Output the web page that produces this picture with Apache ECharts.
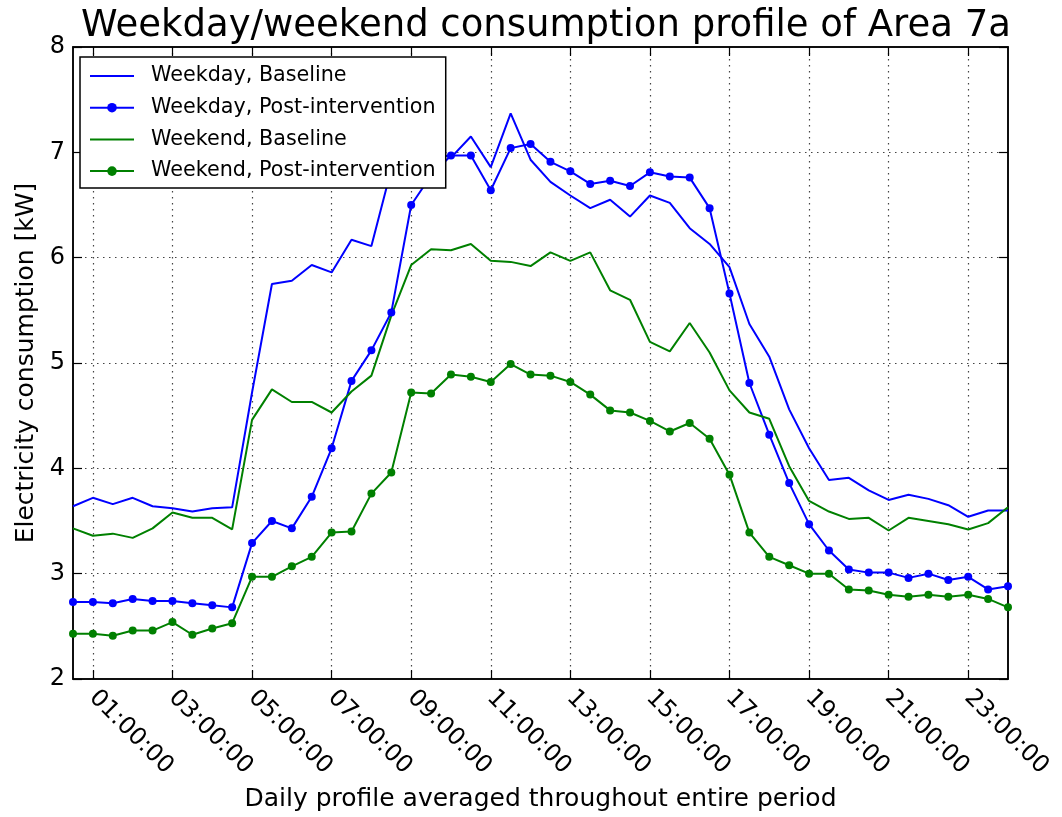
<!DOCTYPE html>
<html>
<head>
<meta charset="utf-8">
<title>Weekday/weekend consumption profile of Area 7a</title>
<script src="https://cdn.jsdelivr.net/npm/echarts@6/dist/echarts.min.js"></script>
<style>
  html, body { margin: 0; padding: 0; background: #fff; }
  #main { width: 1062px; height: 817px; }
</style>
</head>
<body>
<div id="main"></div>
<script>
// half-hourly slots, 00:30 .. 00:00
var times = ['00:30:00','01:00:00','01:30:00','02:00:00','02:30:00','03:00:00','03:30:00','04:00:00',
  '04:30:00','05:00:00','05:30:00','06:00:00','06:30:00','07:00:00','07:30:00','08:00:00',
  '08:30:00','09:00:00','09:30:00','10:00:00','10:30:00','11:00:00','11:30:00','12:00:00',
  '12:30:00','13:00:00','13:30:00','14:00:00','14:30:00','15:00:00','15:30:00','16:00:00',
  '16:30:00','17:00:00','17:30:00','18:00:00','18:30:00','19:00:00','19:30:00','20:00:00',
  '20:30:00','21:00:00','21:30:00','22:00:00','22:30:00','23:00:00','23:30:00','00:00:00'];

var weekdayBaseline = [3.64,3.72,3.66,3.72,3.64,3.62,3.59,3.62,3.63,4.72,5.75,5.78,5.93,5.86,6.17,6.11,
  6.84,6.97,7.02,6.95,7.15,6.86,7.37,6.93,6.72,6.59,6.47,6.55,6.39,6.59,6.52,6.28,
  6.13,5.91,5.37,5.06,4.56,4.19,3.89,3.91,3.79,3.70,3.75,3.71,3.65,3.54,3.60,3.60];
var weekdayPost = [2.73,2.73,2.72,2.76,2.74,2.74,2.72,2.70,2.68,3.29,3.50,3.43,3.73,4.19,4.83,5.12,
  5.48,6.50,6.78,6.97,6.97,6.64,7.04,7.08,6.91,6.82,6.70,6.73,6.68,6.81,6.77,6.76,
  6.47,5.66,4.81,4.32,3.86,3.47,3.22,3.04,3.01,3.01,2.96,3.00,2.94,2.97,2.85,2.88];
var weekendBaseline = [3.43,3.36,3.38,3.34,3.43,3.58,3.53,3.53,3.42,4.46,4.75,4.63,4.63,4.53,4.73,4.88,
  5.45,5.93,6.08,6.07,6.13,5.97,5.96,5.92,6.05,5.97,6.05,5.69,5.60,5.20,5.11,5.38,
  5.10,4.74,4.53,4.47,4.02,3.69,3.59,3.52,3.53,3.41,3.53,3.50,3.47,3.42,3.48,3.63];
var weekendPost = [2.43,2.43,2.41,2.46,2.46,2.54,2.42,2.48,2.53,2.97,2.97,3.07,3.16,3.39,3.40,3.76,
  3.96,4.72,4.71,4.89,4.87,4.82,4.99,4.89,4.88,4.82,4.70,4.55,4.53,4.45,4.35,4.43,
  4.28,3.94,3.39,3.16,3.08,3.00,3.00,2.85,2.84,2.80,2.78,2.80,2.78,2.80,2.76,2.68];

var seriesNames = ['Weekday, Baseline','Weekday, Post-intervention','Weekend, Baseline','Weekend, Post-intervention'];
var blue = '#0000ff', green = '#008000';
var font = 'DejaVu Sans';
// plain line for the legend entries without markers
var lineIcon = 'path://M0,0H44V2H0Z';

// ticks on odd hours only
function oddHour(idx) { return idx % 4 === 1; }

var myChart = echarts.init(document.getElementById('main'));

function makeLine(name, data, color, marker) {
    return {
        name: name,
        type: 'line',
        data: data,
        symbol: marker ? 'circle' : 'none',
        symbolSize: 8,
        showSymbol: marker,
        lineStyle: { color: color, width: 2 },
        itemStyle: { color: color },
        emphasis: { disabled: true }
    };
}

var dotted = { color: '#444', width: 1.2, type: [1.5, 4.5] };

var option = {
    animation: false,
    backgroundColor: '#fff',
    title: {
        text: 'Weekday/weekend consumption profile of Area 7a',
        left: 541,
        textAlign: 'center',
        top: 3,
        textStyle: { fontFamily: font, fontSize: 37, fontWeight: 'normal', color: '#000' }
    },
    legend: {
        orient: 'vertical',
        left: 80,
        top: 57,
        padding: [8, 10, 6, 9],
        itemGap: 9.7,
        itemWidth: 44,
        itemHeight: 12,
        backgroundColor: '#fff',
        borderColor: '#000',
        borderWidth: 1.5,
        borderRadius: 0,
        data: [
            { name: seriesNames[0], icon: lineIcon },
            { name: seriesNames[1] },
            { name: seriesNames[2], icon: lineIcon },
            { name: seriesNames[3] }
        ],
        textStyle: { fontFamily: font, fontSize: 20.7, color: '#000', lineHeight: 22, padding: [0, 0, 0, 12] }
    },
    grid: {
        left: 73, right: 54, top: 47, bottom: 137,
        show: true, borderColor: '#000', borderWidth: 1.5, backgroundColor: 'transparent'
    },
    xAxis: [{
        type: 'category',
        data: times,
        boundaryGap: false,
        name: 'Daily profile averaged throughout entire period',
        nameLocation: 'middle',
        nameGap: 108,
        nameTextStyle: { fontFamily: font, fontSize: 25, color: '#000' },
        axisLine: { show: true, lineStyle: { color: '#000', width: 1.5 } },
        axisTick: { show: true, inside: true, length: 9, interval: oddHour, lineStyle: { color: '#000', width: 1.2 } },
        axisLabel: { interval: oddHour, rotate: -45, margin: 15, fontFamily: font, fontSize: 24, color: '#000' },
        splitLine: { show: true, interval: oddHour, lineStyle: dotted }
    }, {
        type: 'category',
        data: times,
        boundaryGap: false,
        position: 'top',
        axisLine: { show: true, lineStyle: { color: '#000', width: 1.5 } },
        axisTick: { show: true, inside: true, length: 9, interval: oddHour, lineStyle: { color: '#000', width: 1.2 } },
        axisLabel: { show: false },
        splitLine: { show: false }
    }],
    yAxis: [{
        type: 'value',
        min: 2, max: 8, interval: 1,
        name: 'Electricity consumption [kW]',
        nameLocation: 'middle',
        nameGap: 34,
        nameTextStyle: { fontFamily: font, fontSize: 25, color: '#000' },
        axisLine: { show: true, lineStyle: { color: '#000', width: 1.5 } },
        axisTick: { show: true, inside: true, length: 9, lineStyle: { color: '#000', width: 1.2 } },
        axisLabel: { margin: 8, fontFamily: font, fontSize: 24, color: '#000' },
        splitLine: { show: true, lineStyle: dotted }
    }, {
        type: 'value',
        min: 2, max: 8, interval: 1,
        position: 'right',
        axisLine: { show: true, lineStyle: { color: '#000', width: 1.5 } },
        axisTick: { show: true, inside: true, length: 9, lineStyle: { color: '#000', width: 1.2 } },
        axisLabel: { show: false },
        splitLine: { show: false }
    }],
    series: [
        makeLine(seriesNames[0], weekdayBaseline, blue, false),
        makeLine(seriesNames[1], weekdayPost, blue, true),
        makeLine(seriesNames[2], weekendBaseline, green, false),
        makeLine(seriesNames[3], weekendPost, green, true)
    ]
};

myChart.setOption(option);
</script>
</body>
</html>
